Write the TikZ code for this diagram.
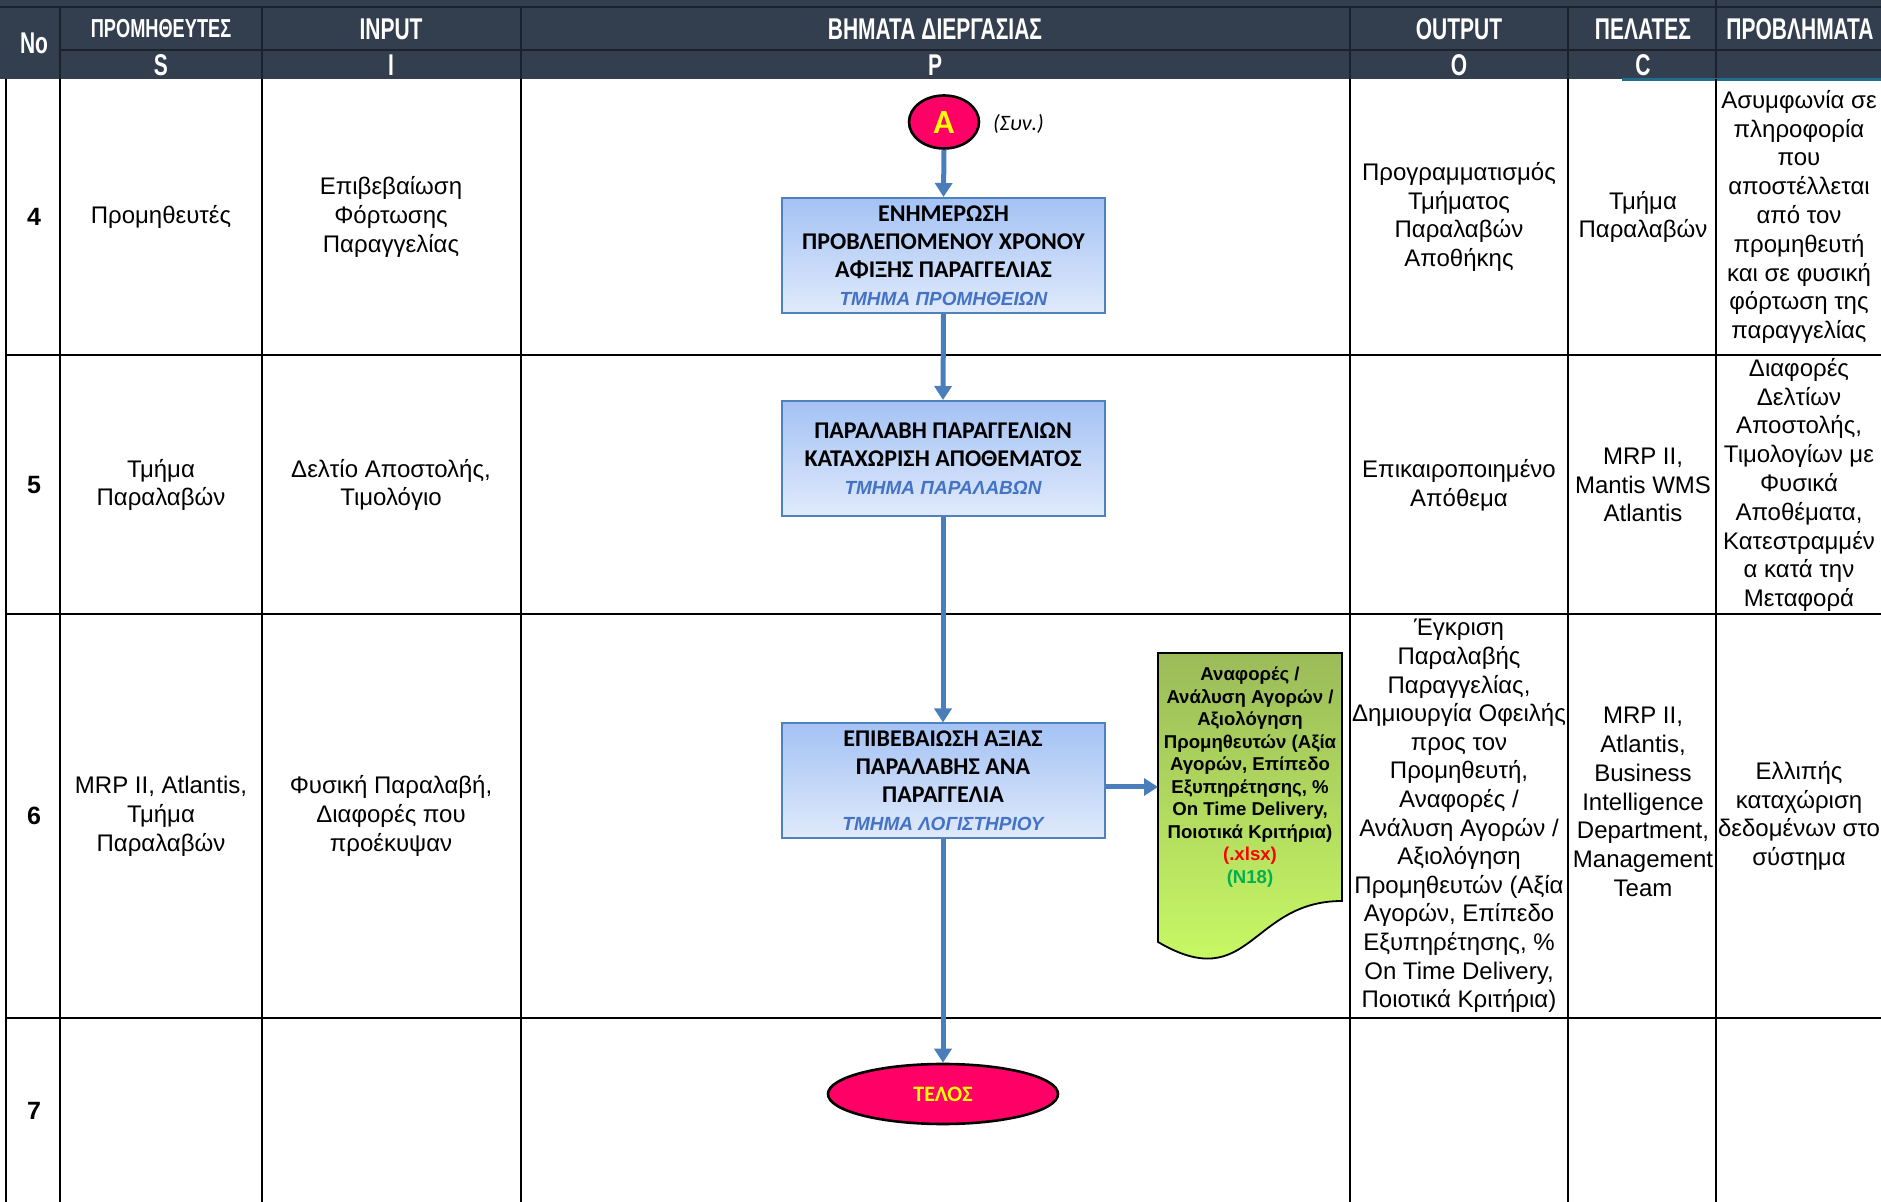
\documentclass[tikz,border=0pt]{standalone}
\usepackage{fontspec}
\setmainfont{Liberation Sans}
\newfontfamily\calibri{Carlito}
\newfontfamily\narrowbold{Liberation Sans}[FakeStretch=0.7]
\usetikzlibrary{arrows.meta,shapes.geometric}

\definecolor{headbg}{HTML}{333F4F}
\definecolor{headline}{HTML}{1C222B}
\definecolor{boxline}{HTML}{4F81BD}
\definecolor{boxtop}{HTML}{A4C2F4}
\definecolor{boxbot}{HTML}{E0EAFB}
\definecolor{flowblue}{HTML}{4A7EBB}
\definecolor{termred}{HTML}{FF0066}
\definecolor{termyellow}{HTML}{FFFF00}
\definecolor{deptblue}{HTML}{4472C4}
\definecolor{doctop}{HTML}{9BBB59}
\definecolor{docbot}{HTML}{CCFF66}
\definecolor{xlsxred}{HTML}{FF0000}
\definecolor{codegreen}{HTML}{00B050}
\definecolor{tealmark}{HTML}{1F6E8C}

% department line under a process step
\newcommand\dept[1]{{\rmfamily\bfseries\itshape\fontsize{9.5}{12}\selectfont\color{deptblue}#1}}

\begin{document}
\begin{tikzpicture}[x=0.5pt,y=-0.5pt,
  hdr/.style={text=white,font=\narrowbold\bfseries\fontsize{15}{16}\selectfont},
  cell/.style={align=center,font=\fontsize{12}{14.4}\selectfont},
  num/.style={font=\bfseries\fontsize{12.5}{14}\selectfont},
  grid/.style={black,line width=0.75pt},
  stepbox/.style={draw=boxline,line width=1pt,top color=boxtop,bottom color=boxbot,
    minimum width=161.5pt,minimum height=57.5pt,inner sep=0pt,align=center,
    font=\calibri\bfseries\fontsize{12}{14}\selectfont},
  term/.style={ellipse,draw=black,line width=1.3pt,fill=termred,text=termyellow,
    inner sep=0pt,font=\calibri\bfseries},
  flow/.style={draw=flowblue,line width=2.5pt,-{Triangle[width=8.5pt,length=7pt]}},
  doctext/.style={align=center,font=\bfseries\fontsize{9.3}{11.25}\selectfont}]

\useasboundingbox (0,0) rectangle (1881,1202);

% header band
\fill[headbg] (0,0) rectangle (1881,79);
\draw[headline,line width=1pt] (0,7) -- (1881,7) (60,50) -- (1881,50)
  (60,7) -- (60,79) (262,7) -- (262,79) (521,7) -- (521,79)
  (1350,7) -- (1350,79) (1568,7) -- (1568,79) (1716,0) -- (1716,79);
\draw[tealmark,line width=1.5pt] (1622,80) -- (1881,80);

\node[hdr] (hno) at (34,43) {No};
\node[hdr,font=\narrowbold\bfseries\fontsize{13}{14}\selectfont] (hs) at (161,29) {ΠΡΟΜΗΘΕΥΤΕΣ};
\node[hdr] (hi) at (391,29) {INPUT};
\node[hdr] (hp) at (935,29) {ΒΗΜΑΤΑ ΔΙΕΡΓΑΣΙΑΣ};
\node[hdr] (ho) at (1459,29) {OUTPUT};
\node[hdr] (hc) at (1643,29) {ΠΕΛΑΤΕΣ};
\node[hdr] (hpr) at (1800,29) {ΠΡΟΒΛΗΜΑΤΑ};
\node[hdr] (ls) at (161,65) {S};
\node[hdr] (li) at (391,65) {I};
\node[hdr] (lp) at (935,65) {P};
\node[hdr] (lo) at (1459,65) {O};
\node[hdr] (lc) at (1643,65) {C};

% table grid
\draw[grid] (6,79) -- (6,1202) (60,79) -- (60,1202) (262,79) -- (262,1202)
  (521,79) -- (521,1202) (1350,79) -- (1350,1202) (1568,79) -- (1568,1202)
  (1716,79) -- (1716,1202);
\draw[grid] (6,355) -- (1881,355) (6,614) -- (1881,614) (6,1018) -- (1881,1018);

% row 4
\node[num] (n4) at (34,217) {4};
\node[cell] (s4) at (161,217) {Προμηθευτές};
\node[cell] (i4) at (391,217) {Επιβεβαίωση\\Φόρτωσης\\Παραγγελίας};
\node[cell] (o4) at (1459,217) {Προγραμματισμός\\Τμήματος\\Παραλαβών\\Αποθήκης};
\node[cell] (c4) at (1643,217) {Τμήμα\\Παραλαβών};
\node[cell] (pr4) at (1799,217) {Ασυμφωνία σε\\πληροφορία\\που\\αποστέλλεται\\από τον\\προμηθευτή\\και σε φυσική\\φόρτωση της\\παραγγελίας};

% row 5
\node[num] (n5) at (34,485) {5};
\node[cell] (s5) at (161,485) {Τμήμα\\Παραλαβών};
\node[cell] (i5) at (391,485) {Δελτίο Αποστολής,\\Τιμολόγιο};
\node[cell] (o5) at (1459,485) {Επικαιροποιημένο\\Απόθεμα};
\node[cell] (c5) at (1643,485) {MRP II,\\Mantis WMS\\Atlantis};
\node[cell] (pr5) at (1799,485) {Διαφορές\\Δελτίων\\Αποστολής,\\Τιμολογίων με\\Φυσικά\\Αποθέματα,\\Κατεστραμμέν\\α κατά την\\Μεταφορά};

% row 6
\node[num] (n6) at (34,816) {6};
\node[cell] (s6) at (161,816) {MRP II, Atlantis,\\Τμήμα\\Παραλαβών};
\node[cell] (i6) at (391,816) {Φυσική Παραλαβή,\\Διαφορές που\\προέκυψαν};
\node[cell,font=\fontsize{12}{14.3}\selectfont] (o6) at (1459,816) {Έγκριση\\Παραλαβής\\Παραγγελίας,\\Δημιουργία Οφειλής\\προς τον\\Προμηθευτή,\\Αναφορές /\\Ανάλυση Αγορών /\\Αξιολόγηση\\Προμηθευτών (Αξία\\Αγορών, Επίπεδο\\Εξυπηρέτησης, \%\\On Time Delivery,\\Ποιοτικά Κριτήρια)};
\node[cell] (c6) at (1643,802) {MRP II,\\Atlantis,\\Business\\Intelligence\\Department,\\Management\\Team};
\node[cell] (pr6) at (1799,816) {Ελλιπής\\καταχώριση\\δεδομένων στο\\σύστημα};

% row 7
\node[num] (n7) at (34,1111) {7};

% process steps
\node[term,minimum width=35pt,minimum height=26.5pt,font=\calibri\bfseries\fontsize{17}{17}\selectfont] (A) at (944,122) {A};
\node[anchor=west,font=\calibri\itshape\fontsize{11}{13}\selectfont] (cont) at (986,124) {(Συν.)};
\node[stepbox] (upd) at (943.5,255.5) {ΕΝΗΜΕΡΩΣΗ\\ΠΡΟΒΛΕΠΟΜΕΝΟΥ ΧΡΟΝΟΥ\\ΑΦΙΞΗΣ ΠΑΡΑΓΓΕΛΙΑΣ\\\dept{ΤΜΗΜΑ ΠΡΟΜΗΘΕΙΩΝ}};
\node[stepbox] (recv) at (943,458.5) {ΠΑΡΑΛΑΒΗ ΠΑΡΑΓΓΕΛΙΩΝ\\ΚΑΤΑΧΩΡΙΣΗ ΑΠΟΘΕΜΑΤΟΣ\\\dept{ΤΜΗΜΑ ΠΑΡΑΛΑΒΩΝ}};
\node[stepbox] (confirm) at (943,781) {ΕΠΙΒΕΒΑΙΩΣΗ ΑΞΙΑΣ\\ΠΑΡΑΛΑΒΗΣ ΑΝΑ\\ΠΑΡΑΓΓΕΛΙΑ\\\dept{ΤΜΗΜΑ ΛΟΓΙΣΤΗΡΙΟΥ}};
\node[term,minimum width=115pt,minimum height=30pt,font=\calibri\bfseries\fontsize{11}{13}\selectfont] (end) at (943,1094) {ΤΕΛΟΣ};

% report document
\shadedraw[draw=black,line width=0.9pt,top color=doctop,bottom color=docbot]
  (1158,653) -- (1342,653) -- (1342,901) .. controls (1250,901) and (1250,996) .. (1158,942) -- cycle;
\node[doctext] (rep) at (1250,777) {Αναφορές /\\Ανάλυση Αγορών /\\Αξιολόγηση\\Προμηθευτών (Αξία\\Αγορών, Επίπεδο\\Εξυπηρέτησης, \%\\On Time Delivery,\\Ποιοτικά Κριτήρια)\\{\color{xlsxred}(.xlsx)}\\{\color{codegreen}(N18)}};
\coordinate (docin) at (1158,787);

% flow
\draw[flow] (A.south) -- (upd.north);
\draw[flow] (upd.south) -- (recv.north);
\draw[flow] (recv.south) -- (confirm.north);
\draw[flow] (confirm.south) -- (end.north);
\draw[flow] (confirm.east |- docin) -- (docin);

\end{tikzpicture}
\end{document}
